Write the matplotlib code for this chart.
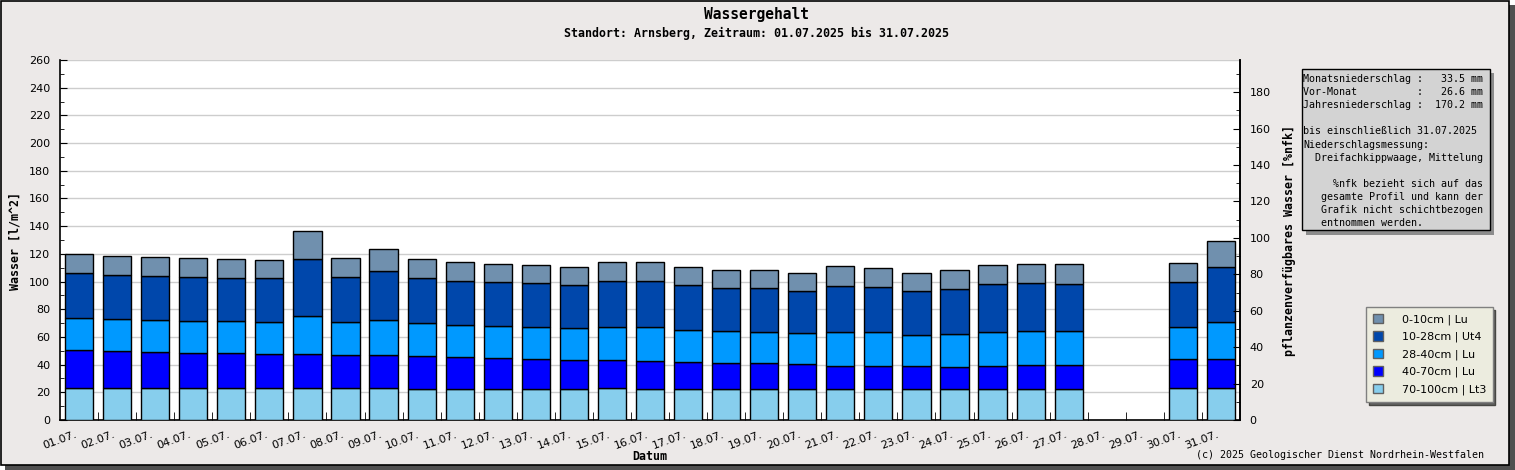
import numpy as np
import matplotlib
matplotlib.use("Agg")
import matplotlib.pyplot as plt
from matplotlib.patches import Rectangle, Patch
from matplotlib.ticker import MultipleLocator, FixedLocator
import matplotlib.transforms as mtransforms

# --- data (mm per layer) ---
days = [f"{d:02d}.07." for d in range(1, 32)]
nan = np.nan
layer_70_100 = [22.9, 22.9, 22.9, 22.9, 22.9, 22.9, 22.9, 22.9, 22.9, 22.1,
                22.1, 22.1, 22.1, 22.1, 22.9, 22.1, 22.1, 22.1, 22.1, 22.1,
                22.1, 22.1, 22.1, 22.1, 22.1, 22.1, 22.1, nan, nan, 22.9, 22.9]
layer_40_70 = [27.7, 26.9, 26.2, 25.5, 25.5, 24.8, 24.8, 24.0, 24.0, 24.1,
               23.4, 22.7, 22.0, 21.2, 20.4, 20.5, 19.8, 19.1, 19.1, 18.3,
               16.9, 16.9, 16.9, 16.2, 16.9, 17.6, 17.6, nan, nan, 21.2, 21.2]
layer_28_40 = [23.1, 23.1, 23.1, 23.1, 23.1, 23.1, 27.4, 23.9, 25.3, 23.9,
               23.1, 23.1, 23.1, 23.1, 23.9, 24.6, 23.1, 23.1, 22.4, 22.4,
               24.6, 24.6, 22.4, 23.8, 24.6, 24.6, 24.6, nan, nan, 23.1, 26.7]
layer_10_28 = [32.5, 31.8, 31.8, 31.8, 30.8, 31.5, 41.2, 32.5, 35.4, 32.5,
               31.8, 31.8, 31.7, 31.1, 33.2, 33.2, 32.5, 31.0, 31.7, 30.4,
               33.2, 32.5, 31.8, 32.5, 34.6, 34.6, 33.9, nan, nan, 32.5, 39.7]
layer_0_10 = [13.7, 13.7, 13.7, 13.7, 14.0, 13.3, 20.2, 13.7, 15.9, 13.7,
              13.7, 13.0, 13.0, 13.0, 13.7, 13.7, 13.0, 13.0, 13.0, 13.0,
              14.4, 13.7, 13.0, 13.7, 13.7, 13.8, 14.5, nan, nan, 13.7, 18.8]

layers = [layer_70_100, layer_40_70, layer_28_40, layer_10_28, layer_0_10]
layer_names = ["70-100cm | Lt3", "40-70cm | Lu", "28-40cm | Lu",
               "10-28cm | Ut4", "0-10cm | Lu"]
layer_colors = ["#87ceed", "#0000ff", "#0099ff", "#0047ab", "#7090ae"]

info_lines = [
    "Monatsniederschlag :   33.5 mm",
    "Vor-Monat          :   26.6 mm",
    "Jahresniederschlag :  170.2 mm",
    "",
    "bis einschließlich 31.07.2025",
    "Niederschlagsmessung:",
    "  Dreifachkippwaage, Mittelung",
    "",
    "     %nfk bezieht sich auf das",
    "   gesamte Profil und kann der",
    "   Grafik nicht schichtbezogen",
    "   entnommen werden.",
]

W, H = 1515, 470
BG = "#ece9e8"
MONO = "DejaVu Sans Mono"

fig = plt.figure(figsize=(W / 100, H / 100), dpi=100, facecolor="white")


def fx(x):
    return x / W


def fy(y):
    return 1 - y / H


# frame with drop shadow
fig.patches.append(Rectangle((fx(5), fy(470)), fx(1510), 465 / H,
                             transform=fig.transFigure, facecolor="#505050",
                             edgecolor="none", zorder=-10))
fig.patches.append(Rectangle((fx(0.5), fy(465)), fx(1508), 464.5 / H,
                             transform=fig.transFigure, facecolor=BG,
                             edgecolor="black", linewidth=1.2, zorder=-9))

ax = fig.add_axes([fx(60), fy(420), fx(1180), 360 / H])
ax.set_facecolor("white")

x = np.arange(len(days))
bottom = np.zeros(len(days))
for vals, col in zip(layers, layer_colors):
    v = np.array(vals, dtype=float)
    ax.bar(x, v, width=0.74, bottom=bottom, color=col, edgecolor="black",
           linewidth=1, zorder=3)
    bottom = bottom + v

ax.set_xlim(-0.5, len(days) - 0.5)
ax.set_ylim(0, 260)
ax.yaxis.set_major_locator(MultipleLocator(20))
ax.yaxis.set_minor_locator(MultipleLocator(10))
ax.grid(axis="y", which="major", color="#cdcdcd", linewidth=1, zorder=0)
ax.tick_params(axis="y", which="major", direction="in", length=5, pad=7,
               labelsize=8, colors="black")
ax.tick_params(axis="y", which="minor", direction="in", length=3)

ax.set_xticks(x)
ax.set_xticklabels([])
ax.tick_params(axis="x", which="major", length=0)
ax.xaxis.set_minor_locator(FixedLocator(np.arange(0.5, len(days) - 1, 1.0)))
ax.tick_params(axis="x", which="minor", direction="in", length=6)

offset = mtransforms.ScaledTranslation(-4 / 100, -9 / 100, fig.dpi_scale_trans)
for xi, lab in zip(x, days):
    ax.text(xi, 0, lab, transform=ax.get_xaxis_transform() + offset,
            rotation=20, rotation_mode="anchor", ha="right", va="top",
            fontsize=8)

for s in ["left", "bottom", "right"]:
    ax.spines[s].set_color("black")
    ax.spines[s].set_linewidth(1.2)
ax.spines["top"].set_visible(False)

ax2 = ax.twinx()
ax2.set_ylim(0, 197.7)
ax2.yaxis.set_major_locator(MultipleLocator(20))
ax2.yaxis.set_minor_locator(MultipleLocator(10))
ax2.set_yticks(np.arange(0, 181, 20))
ax2.tick_params(axis="y", which="major", direction="in", length=5, pad=7,
                labelsize=8)
ax2.tick_params(axis="y", which="minor", direction="in", length=3)
for s in ["left", "top", "bottom"]:
    ax2.spines[s].set_visible(False)
ax2.spines["right"].set_linewidth(1.2)

# titles and labels
fig.text(fx(757), fy(14), "Wassergehalt", ha="center", va="center",
         family=MONO, fontweight="bold", fontsize=10.5)
fig.text(fx(757), fy(33),
         "Standort: Arnsberg, Zeitraum: 01.07.2025 bis 31.07.2025",
         ha="center", va="center", family=MONO, fontweight="bold", fontsize=8.4)
fig.text(fx(650), fy(457), "Datum", ha="center", va="center",
         family=MONO, fontweight="bold", fontsize=8.4)
fig.text(fx(15), fy(241), "Wasser [l/m^2]", ha="center", va="center",
         rotation=90, family=MONO, fontweight="bold", fontsize=8.4)
fig.text(fx(1290), fy(240), "pflanzenverfügbares Wasser [%nfk]",
         ha="center", va="center", rotation=90, family=MONO,
         fontweight="bold", fontsize=8.4)
fig.text(fx(1484), fy(455),
         "(c) 2025 Geologischer Dienst Nordrhein-Westfalen",
         ha="right", va="center", family=MONO, fontsize=7.2)

# info box with shadow
bx0, by0, bx1, by1 = 1301.5, 68.5, 1490, 230.5
fig.patches.append(Rectangle((fx(bx0 + 4), fy(by1 + 4)), fx(bx1 - bx0),
                             (by1 - by0) / H, transform=fig.transFigure,
                             facecolor="#8c8c8c", edgecolor="none", zorder=1))
fig.patches.append(Rectangle((fx(bx0), fy(by1)), fx(bx1 - bx0),
                             (by1 - by0) / H, transform=fig.transFigure,
                             facecolor="#d3d3d3", edgecolor="black",
                             linewidth=1, zorder=2))
fig.text(fx(1303), fy(74), "\n".join(info_lines), ha="left", va="top",
         family=MONO, fontsize=7.2, linespacing=1.39, zorder=3)

# legend, top layer first
handles = [Patch(facecolor=c, edgecolor="#606060", label=n)
           for n, c in zip(layer_names[::-1], layer_colors[::-1])]
leg = fig.legend(handles=handles, loc="upper left",
                 bbox_to_anchor=(fx(1366), fy(307)), frameon=True,
                 fancybox=False, framealpha=1, facecolor="#ececdf",
                 edgecolor="#808080", fontsize=8, handlelength=0.9,
                 handleheight=0.9, handletextpad=1.7, labelspacing=0.6,
                 borderpad=0.6, borderaxespad=0,
                 shadow={"facecolor": "#606060", "alpha": 1})

fig.savefig("out.png", dpi=100, facecolor=fig.get_facecolor())
